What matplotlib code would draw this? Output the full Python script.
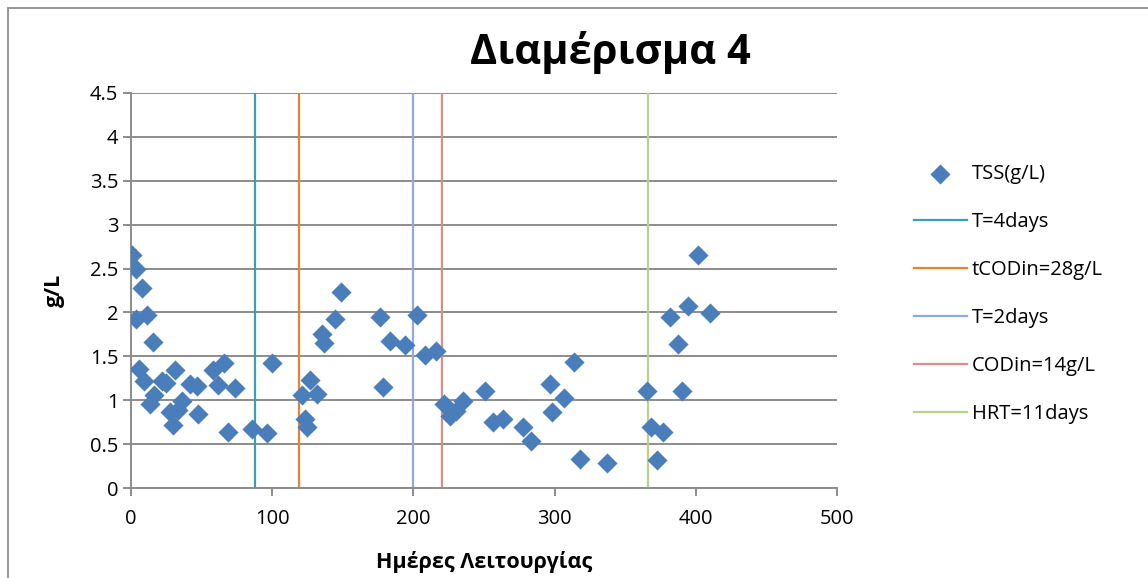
import matplotlib
matplotlib.use("Agg")
import matplotlib.pyplot as plt
from matplotlib.patches import Rectangle

plt.rcParams['font.family'] = ['Open Sans', 'DejaVu Sans']

# TSS measurements: operating day vs g/L
days = [0.5, 3.3, 7.5, 3.5, 11, 15.3, 5.7, 9.2, 16, 13.4, 22, 25, 31,
        41.8, 46.5, 27.6, 29.5, 33, 35.9, 47.6, 57.8, 66, 61.3, 73.6,
        68.8, 86, 96, 99.6, 120.8, 126.7, 131.4, 123.1, 124.3, 135.1,
        136.5, 144.4, 149, 176, 178.6, 183.3, 193.9, 202.2, 208, 215.8,
        222, 226, 230, 235, 250.5, 256.4, 263.5, 277.6, 283.5, 296.5,
        298.4, 306.6, 313.5, 317.8, 337.3, 365.7, 368.5, 376.8, 372.7,
        381.9, 387.4, 390.5, 394.4, 401.5, 410.3]
tss = [2.66, 2.50, 2.28, 1.93, 1.97, 1.66, 1.36, 1.22, 1.06, 0.96, 1.22,
       1.20, 1.34, 1.19, 1.16, 0.87, 0.72, 0.89, 0.99, 0.84, 1.34, 1.42,
       1.17, 1.14, 0.64, 0.67, 0.63, 1.42, 1.06, 1.23, 1.07, 0.79, 0.70,
       1.76, 1.65, 1.92, 2.23, 1.95, 1.15, 1.67, 1.63, 1.97, 1.52, 1.56,
       0.96, 0.82, 0.88, 0.99, 1.11, 0.75, 0.79, 0.70, 0.53, 1.19, 0.87,
       1.03, 1.44, 0.33, 0.29, 1.11, 0.70, 0.64, 0.32, 1.95, 1.64, 1.11,
       2.07, 2.65, 1.99]

# operating condition changes (day)
event_days = [88, 119, 200, 220, 366]
event_labels = ['T=4days', 'tCODin=28g/L', 'T=2days', 'CODin=14g/L', 'HRT=11days']
event_colors = ['#3b9fb3', '#e8822f', '#8faadc', '#d98c8c', '#b9d28a']

W, H = 1148, 578
fig = plt.figure(figsize=(W / 100, H / 100), dpi=100)

# chart area border
fig.patches.append(Rectangle((8 / W, -0.1), 1.2, 1 - 8 / H + 0.1,
                             transform=fig.transFigure, fill=False,
                             edgecolor='#8c8c8c', lw=1.3))

ax = fig.add_axes([131 / W, (H - 488) / H, 706 / W, 395 / H])

grey = '#8c8c8c'
ax.scatter(days, tss, marker='D', s=105, color='#4a7ebb', zorder=3,
           label='TSS(g/L)', linewidths=0)
for d, lab, c in zip(event_days, event_labels, event_colors):
    ax.axvline(d, color=c, lw=1.6, label=lab, zorder=2)

ax.set_xlim(0, 500)
ax.set_ylim(0, 4.5)
ax.set_xticks(range(0, 501, 100))
ax.set_yticks([0, 0.5, 1, 1.5, 2, 2.5, 3, 3.5, 4, 4.5])
ax.set_yticklabels(['0', '0.5', '1', '1.5', '2', '2.5', '3', '3.5', '4', '4.5'])
ax.yaxis.grid(True, color=grey, lw=1.4)
ax.set_axisbelow(True)
for s in ['top', 'right']:
    ax.spines[s].set_visible(False)
for s in ['left', 'bottom']:
    ax.spines[s].set_color(grey)
    ax.spines[s].set_linewidth(1.4)
ax.tick_params(axis='both', direction='out', length=6, width=1.4,
               color=grey, labelsize=14.5)
ax.tick_params(axis='y', pad=3)
ax.tick_params(axis='x', pad=9)

ax.set_xlabel('Ημέρες Λειτουργίας', fontsize=15.5, fontweight='bold', labelpad=16)
ax.set_ylabel('g/L', fontsize=15.5, fontweight='bold', labelpad=18)

fig.text(610 / W, 1 - 53 / H, 'Διαμέρισμα 4', fontsize=30, fontweight='bold',
         ha='center', va='center')

ax.legend(loc='upper left', bbox_to_anchor=(914 / W, 1 - 164 / H),
          bbox_transform=fig.transFigure, frameon=False, fontsize=14.5,
          handlelength=2.62, handletextpad=0.25, labelspacing=1.39,
          borderpad=0, borderaxespad=0, scatterpoints=1)

fig.savefig('out.png', dpi=100)
